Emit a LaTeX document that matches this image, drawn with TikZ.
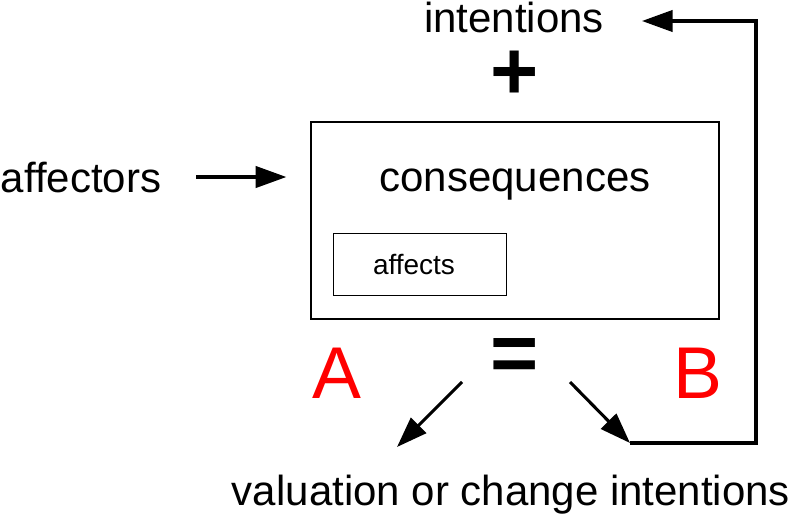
\documentclass[tikz,border=0pt]{standalone}
\usepackage{fontspec}
\setmainfont{Liberation Sans}
\usetikzlibrary{arrows.meta, positioning}

\begin{document}
\begin{tikzpicture}[x=0.75pt, y=-0.75pt,
	txt/.style={inner sep=0, font=\fontsize{31.5}{36}\selectfont},
	big/.style={inner sep=0, font=\fontsize{55}{60}\selectfont},
	sym/.style={inner sep=0, font=\fontsize{62}{66}\selectfont\bfseries},
	arr/.style={line width=2.3pt, -{Triangle[length=23pt, width=16pt]}}]
	\useasboundingbox (0,0) rectangle (800,514);
	% outer box and inner box
	\node[draw, line width=1pt, minimum width=306pt, minimum height=147.75pt] (box) at (515,220.5) {};
	\node[draw, line width=1pt, minimum width=130pt, minimum height=46.5pt] (affbox) at (420,264.5) {};
	\node[txt, anchor=base] (cons) at (515,191) {consequences};
	\node[inner sep=0, font=\fontsize{21}{24}\selectfont, anchor=base] (affects) at (414,274) {affects};
	% texts around
	\node[txt, anchor=base] (intentions) at (514,32) {intentions};
	\node[sym] (plus) at (515,75) {+};
	\node[txt, anchor=base] (affectors) at (81,192) {affectors};
	\node[big, red, anchor=base] (A) at (337,398) {A};
	\node[sym] (eq) at (515,360) {=};
	\node[big, red, anchor=base] (B) at (698,398) {B};
	\node[txt, anchor=base] (valuation) at (511,505) {valuation or change intentions};
	% connectors
	\coordinate (eqL) at (462,382);
	\coordinate (valin) at (397,447);
	\coordinate (eqR) at (570,382);
	\coordinate (turn) at (630,443);
	\coordinate (intin) at (642,21);
	\draw[arr, shorten <=26pt, shorten >=18pt] (affectors.east) -- (affectors.east -| box.west);
	\draw[arr] (eqL) -- (valin);
	\draw[arr] (eqR) -- (turn);
	\draw[arr, line join=miter] (turn) -- (756,443) |- (intin);
\end{tikzpicture}
\end{document}
